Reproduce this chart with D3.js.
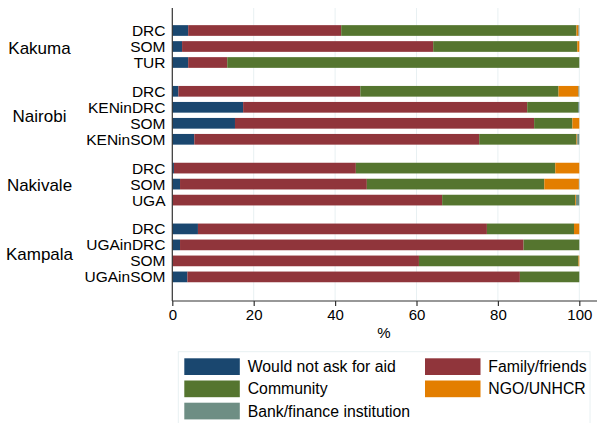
<!DOCTYPE html>
<html><head><meta charset="utf-8">
<script src="https://cdn.jsdelivr.net/npm/d3@7"></script>
<style>body{margin:0;background:#fff}svg{display:block;font-family:"Liberation Sans",Arial,sans-serif}</style>
</head><body><svg id="c" width="597" height="423"></svg>
<script>
const sites = ["Kakuma","Nairobi","Nakivale","Kampala"];
const siteOf = ["Kakuma","Kakuma","Kakuma","Nairobi","Nairobi","Nairobi","Nairobi","Nakivale","Nakivale","Nakivale","Kampala","Kampala","Kampala","Kampala"];
const groups = ["DRC","SOM","TUR","DRC","KENinDRC","SOM","KENinSOM","DRC","SOM","UGA","DRC","UGAinDRC","SOM","UGAinSOM"];
const seriesNames = ["Would not ask for aid","Family/friends","Community","NGO/UNHCR","Bank/finance institution"];
const wouldNot  = [3.9, 2.4, 3.9, 1.5, 17.4, 15.4, 5.4, 0.4, 1.9, 0.0, 6.3, 1.9, 0.0, 3.7];
const family    = [37.6,61.7, 9.6,44.7, 69.8, 73.5,70.0,44.7,45.9,66.3,71.0,84.4,60.6,81.7];
const community = [57.8,35.4,86.5,48.7, 12.5,  9.4,23.9,49.0,43.6,32.7,21.4,13.7,39.2,14.6];
const ngo       = [0.5, 0.5, 0.0, 4.9,  0.0,  1.7, 0.2, 5.9, 8.5, 0.2, 1.3, 0.0, 0.2, 0.0];
const bank      = [0.2, 0.0, 0.0, 0.2,  0.3,  0.0, 0.5, 0.0, 0.1, 0.8, 0.0, 0.0, 0.0, 0.0];
const xTicks = [0,20,40,60,80,100];
const colors = ["#1a476f","#90353b","#55752f","#e37e00","#6e8e84"];

const svg = d3.select("#c");
const x = d3.scaleLinear().domain([0,100]).range([172.3,579.3]);
// position index: row index + 0.8 per site gap
const pos = groups.map((g,i)=> i + sites.indexOf(siteOf[i])*0.8);
const y = d3.scaleLinear().domain([0,15.4]).range([30.5,276.9]);
const barH = 10.7;

// gridlines
svg.append("g").selectAll("line").data(xTicks.slice(1)).join("line")
  .attr("x1",d=>x(d)).attr("x2",d=>x(d)).attr("y1",8).attr("y2",301)
  .attr("stroke","#e8f0f2").attr("stroke-width",1);

const series = [wouldNot,family,community,ngo,bank];
const stackData = groups.map((g,i)=>{const o={i};series.forEach((s,k)=>o["s"+k]=s[i]);return o;});
const stack = d3.stack().keys(series.map((s,k)=>"s"+k))(stackData);
svg.append("g").selectAll("g").data(stack).join("g").attr("fill",(d,k)=>colors[k])
  .selectAll("rect").data(d=>d).join("rect")
  .attr("x",d=>x(d[0])).attr("width",d=>Math.max(0,x(d[1])-x(d[0])))
  .attr("y",d=>y(pos[d.data.i])-barH/2).attr("height",barH);

// axes
const xAxis = d3.axisBottom(x).tickValues(xTicks).tickSize(5).tickPadding(3).tickFormat(d3.format("d"));
const gx = svg.append("g").attr("transform","translate(0,301)").call(xAxis);
gx.select(".domain").remove();
gx.append("line").attr("x1",172.3).attr("x2",597).attr("stroke","#333").attr("stroke-width",1.2);
gx.selectAll(".tick line").attr("stroke","#333").attr("stroke-width",1.2);
gx.selectAll(".tick text").attr("fill","#000").style("font-size","15px").style("font-family","Liberation Sans, Arial, sans-serif");
svg.append("line").attr("x1",172.3).attr("x2",172.3).attr("y1",8).attr("y2",301).attr("stroke","#333").attr("stroke-width",1.2);
svg.append("text").attr("x",x(52)).attr("y",338).attr("text-anchor","middle").style("font-size","15px").text("%");

// row labels
svg.append("g").selectAll("text").data(groups).join("text")
  .attr("x",165.5).attr("y",(d,i)=>y(pos[i])).attr("dy","0.35em").attr("text-anchor","end")
  .style("font-size","15.5px").text(d=>d);
// site labels
svg.append("g").selectAll("text").data(sites).join("text")
  .attr("x",39.5).attr("y",s=>{const idx=siteOf.map((v,i)=>v===s?i:-1).filter(i=>i>=0);return (y(pos[idx[0]])+y(pos[idx[idx.length-1]]))/2+1.2;})
  .attr("dy","0.35em").attr("text-anchor","middle").style("font-size","17px").text(d=>d);

// legend
const lg = svg.append("g");
lg.append("rect").attr("x",178.3).attr("y",351.7).attr("width",411.7).attr("height",80)
  .attr("fill","#fff").attr("stroke","#e8f0f2").attr("stroke-width",1);
const legOrder = [0,1,2,3,4];
const legPos = [[0,0],[1,0],[0,1],[1,1],[0,2]];
legOrder.forEach((k,j)=>{
  const [c,r]=legPos[j];
  const sx = c===0?184.3:425; const tx = c===0?247.7:488.3; const sy = 358.3 + r*22.2;
  lg.append("rect").attr("x",sx).attr("y",sy).attr("width",55.5).attr("height",16.7).attr("fill",colors[k]);
  lg.append("text").attr("x",tx).attr("y",sy+8.3).attr("dy","0.35em").style("font-size","15.8px").text(seriesNames[k]);
});
</script></body></html>
